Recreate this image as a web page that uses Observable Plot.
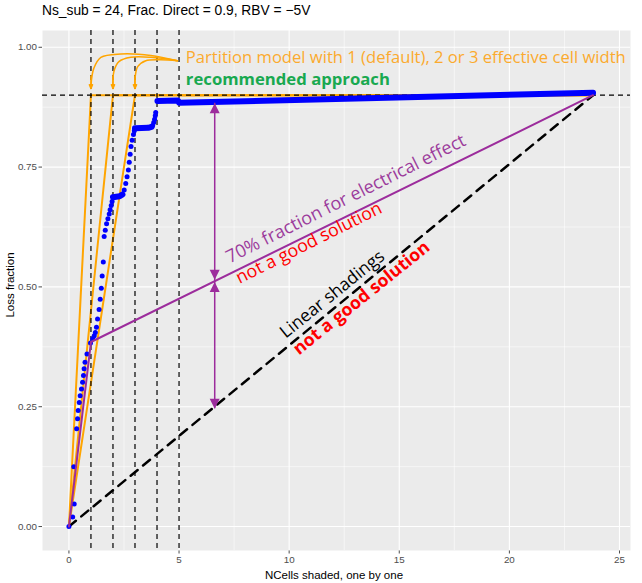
<!DOCTYPE html>
<html><head><meta charset="utf-8">
<script src="https://cdn.jsdelivr.net/npm/d3@7"></script>
<script src="https://cdn.jsdelivr.net/npm/@observablehq/plot@0.6"></script>
<style>
body{margin:0;background:#fff;}
#wrap{position:relative;width:642px;height:583px;overflow:hidden;font-family:"Liberation Sans",Arial,sans-serif;}
#chart{position:absolute;left:0;top:0;}
#title{position:absolute;left:42px;top:3px;font-size:13.8px;color:#000;white-space:nowrap;}
#ylab{position:absolute;left:10px;top:285px;transform:translate(-50%,-50%) rotate(-90deg);font-size:11.5px;color:#000;white-space:nowrap;}
#xlab{position:absolute;left:334px;top:575px;transform:translate(-50%,-50%);font-size:11.5px;color:#000;white-space:nowrap;}
</style></head>
<body>
<div id="wrap">
  <div id="chart"></div>
  <div id="title">Ns_sub = 24, Frac. Direct = 0.9, RBV = −5V</div>
  <div id="ylab">Loss fraction</div>
  <div id="xlab">NCells shaded, one by one</div>
</div>
<script>
// ---- axis ticks ----
const xTicks = [0, 5, 10, 15, 20, 25];
const xMinor = [2.5, 7.5, 12.5, 17.5, 22.5];
const yTicks = [0, 0.25, 0.5, 0.75, 1];
const yMinor = [0.125, 0.375, 0.625, 0.875];

// ---- simulated losses (blue dots, sparse part) ----
const blueX = [0, 0.17, 0.24, 0.22, 0.35, 0.39, 0.42, 0.47, 0.51, 0.57, 0.62, 0.66, 0.69, 0.73, 0.82,
  0.98, 1.08, 1.15, 1.2, 1.25, 1.3, 1.37, 1.42, 1.47, 1.51, 1.56, 1.6, 1.65, 1.71, 1.77, 1.83, 1.87, 1.92, 1.96,
  2.51, 2.58, 2.64, 2.7, 2.74, 2.78, 2.82, 2.87, 2.93, 2.97,
  3.8, 3.85, 3.89, 3.92, 3.94];
const blueY = [0, 0.02, 0.047, 0.125, 0.204, 0.225, 0.242, 0.259, 0.273, 0.287, 0.301, 0.315, 0.329, 0.343, 0.36,
  0.383, 0.392, 0.398, 0.405, 0.416, 0.433, 0.453, 0.474, 0.497, 0.523, 0.552, 0.605, 0.618, 0.632, 0.642, 0.652, 0.661, 0.67, 0.678,
  0.702, 0.716, 0.73, 0.744, 0.76, 0.777, 0.793, 0.806, 0.818, 0.826,
  0.837, 0.843, 0.85, 0.857, 0.864];
// dense runs of blue dots (drawn as thick runs)
const blueRunX  = [2.0, 2.3, 2.43,   3.0, 3.6, 3.75,   4.02, 4.95, 5.0, 23.8];
const blueRunY  = [0.687, 0.689, 0.693,   0.831, 0.832, 0.834,   0.888, 0.889, 0.884, 0.905];
const blueRunId = [1, 1, 1,   2, 2, 2,   3, 3, 3, 3];

// ---- partition model (orange) ----
const partitionWidths = [1, 2, 3];
const plateau = 0.9;
const nCellsEnd = 23.8;

// ---- 70% electrical effect (purple) ----
const electricX = [0, 1, 23.8];
const electricY = [0, 0.385, 0.9];

// ---- linear shading (black dashed) ----
const linearX = [0, 23.8];
const linearY = [0, 0.9];

// ---- reference dashed lines ----
const vRefs = [1, 2, 3, 4, 5];
const hRefs = [0.9];

// ---- purple gap arrows ----
const gapX = 6.62;
const gapUpperTop = 0.883, gapUpperBottom = 0.515;
const gapLowerTop = 0.51, gapLowerBottom = 0.246;

// ---- orange annotation curves ----
const curveId = [1,1,1,1,1,1,1, 2,2,2,2,2,2, 3,3,3,3,3,3];
const curveX = [4.93, 3.72, 2.36, 1.45, 1.13, 1.02, 1.0,
                4.93, 3.72, 2.81, 2.27, 2.04, 2.0,
                4.93, 4.17, 3.49, 3.13, 3.01, 3.0];
const curveY = [0.972, 0.983, 0.986, 0.979, 0.956, 0.93, 0.914,
                0.972, 0.979, 0.979, 0.970, 0.949, 0.914,
                0.972, 0.974, 0.972, 0.960, 0.939, 0.914];
const headFromY = 0.94, headToY = 0.914;

// ---- annotation texts ----
const noteText = ["Partition model with 1 (default), 2 or 3 effective cell width", "recommended approach",
  "70% fraction for electrical effect", "not a good solution", "Linear shadings", "not a good solution"];
const noteX = [5.31, 5.31, 7.3, 7.75, 9.85, 10.45];
const noteY = [0.968, 0.922, 0.549, 0.506, 0.392, 0.357];
const noteRotate = [0, 0, -26.6, -26.6, -38.8, -38.8];
const noteColor = ["#FBAA2E", "#19A950", "#9C3C9C", "#FF0000", "#000000", "#FF0000"];
const noteWeight = ["normal", "bold", "normal", "normal", "normal", "bold"];
const noteSize = [16.6, 16.7, 18, 17.8, 17.5, 17.6];

// ---- build tables ----
const blueDots = blueX.map((x, i) => ({x, y: blueY[i]}));
const blueRuns = blueRunX.map((x, i) => ({x, y: blueRunY[i], id: blueRunId[i]}));
const orangeLines = partitionWidths.flatMap(w => [
  {x: 0, y: 0, w}, {x: w, y: plateau, w}, {x: nCellsEnd, y: plateau, w}]);
const electric = electricX.map((x, i) => ({x, y: electricY[i]}));
const linear = linearX.map((x, i) => ({x, y: linearY[i]}));
const curves = curveX.map((x, i) => ({x, y: curveY[i], id: curveId[i]}));
const heads = partitionWidths.map(w => ({x1: w, y1: headFromY, x2: w, y2: headToY}));
const notes = noteText.map((t, i) => ({t, x: noteX[i], y: noteY[i], r: noteRotate[i], c: noteColor[i], w: noteWeight[i], s: noteSize[i]}));
const tips = [
  {x: gapX, y: gapUpperTop, dir: "up"}, {x: gapX, y: gapUpperBottom, dir: "down"},
  {x: gapX, y: gapLowerTop, dir: "up"}, {x: gapX, y: gapLowerBottom, dir: "down"}];

const triUp = {draw(ctx) { ctx.moveTo(0, 0); ctx.lineTo(5, 10); ctx.lineTo(-5, 10); ctx.closePath(); }};
const triDown = {draw(ctx) { ctx.moveTo(0, 0); ctx.lineTo(5, -10); ctx.lineTo(-5, -10); ctx.closePath(); }};

const purple = "#9C2C9C";
const orange = "#FFA500";
const annoFont = "'Open Sans', 'Noto Sans', sans-serif";

const textMarks = notes.map(n => Plot.text([n], {
  x: "x", y: "y", text: "t", rotate: n.r, textAnchor: "start", lineAnchor: "bottom",
  fill: n.c, fontWeight: n.w, fontSize: n.s, fontFamily: annoFont
}));

const chart = Plot.plot({
  width: 642, height: 583,
  marginTop: 30, marginBottom: 33, marginLeft: 42, marginRight: 12,
  style: {background: "transparent", fontFamily: "'Liberation Sans', Arial, sans-serif", fontSize: "9.8px", color: "#4D4D4D", overflow: "visible"},
  x: {domain: [-1.2, 25.5], ticks: xTicks, tickSize: 3.5, tickPadding: 2, label: null, tickFormat: d => String(d)},
  y: {domain: [-0.05, 1.035], ticks: yTicks, tickSize: 3.5, tickPadding: 2, label: null, tickFormat: d3.format(".2f")},
  marks: [
    Plot.frame({fill: "#EBEBEB", stroke: null}),
    Plot.ruleX(xMinor, {stroke: "white", strokeWidth: 0.55}),
    Plot.ruleY(yMinor, {stroke: "white", strokeWidth: 0.55}),
    Plot.ruleX(xTicks, {stroke: "white", strokeWidth: 1.1}),
    Plot.ruleY(yTicks, {stroke: "white", strokeWidth: 1.1}),
    // orange partition model lines
    Plot.line(orangeLines, {x: "x", y: "y", z: "w", stroke: orange, strokeWidth: 2}),
    // reference dashed lines
    Plot.ruleX(vRefs, {stroke: "black", strokeWidth: 1.2, strokeDasharray: "5,4"}),
    Plot.ruleY(hRefs, {stroke: "black", strokeWidth: 1.2, strokeDasharray: "5,4"}),
    // linear shading
    Plot.line(linear, {x: "x", y: "y", stroke: "black", strokeWidth: 2.5, strokeDasharray: "9,7"}),
    // blue simulated values
    Plot.line(blueRuns, {x: "x", y: "y", z: "id", stroke: "#0000FF", strokeWidth: 6, strokeLinecap: "round", strokeLinejoin: "round"}),
    Plot.dot(blueDots, {x: "x", y: "y", r: 2.5, fill: "#0000FF", stroke: null}),
    // purple 70% line
    Plot.line(electric, {x: "x", y: "y", stroke: purple, strokeWidth: 2}),
    // purple gap arrows
    Plot.ruleX([gapX], {y1: gapLowerBottom, y2: gapUpperTop, stroke: purple, strokeWidth: 1.5}),
    Plot.dot(tips.filter(d => d.dir === "up"), {x: "x", y: "y", symbol: triUp, fill: purple, stroke: null}),
    Plot.dot(tips.filter(d => d.dir === "down"), {x: "x", y: "y", symbol: triDown, fill: purple, stroke: null}),
    // orange annotation arrows
    Plot.line(curves, {x: "x", y: "y", z: "id", curve: "catmull-rom", stroke: orange, strokeWidth: 1.5}),
    Plot.arrow(heads, {x1: "x1", y1: "y1", x2: "x2", y2: "y2", stroke: orange, strokeWidth: 1.5, headLength: 11, headAngle: 45}),
    ...textMarks
  ]
});
document.getElementById("chart").appendChild(chart);
</script>
</body></html>
